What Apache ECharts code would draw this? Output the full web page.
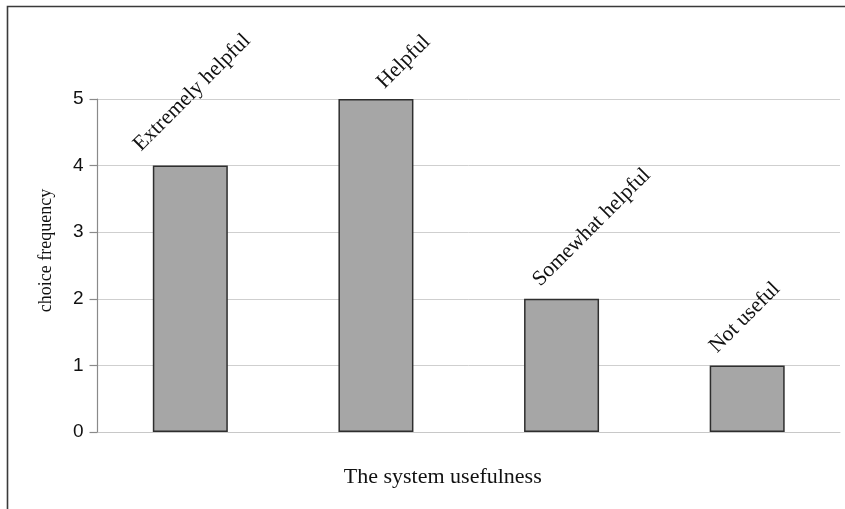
<!DOCTYPE html>
<html>
<head>
<meta charset="utf-8">
<script src="https://cdn.jsdelivr.net/npm/echarts@6/dist/echarts.min.js"></script>
<style>
  html, body { margin: 0; padding: 0; background: #fff; }
  #chart { width: 845px; height: 509px; }
</style>
</head>
<body>
<div id="chart"></div>
<script>
// Survey answers: how useful the system was, and how often each answer was chosen
const categories = ['Extremely helpful', 'Helpful', 'Somewhat helpful', 'Not useful'];
const frequencies = [4, 5, 2, 1];
const yTicks = [0, 1, 2, 3, 4, 5];

// Per-bar nudges for the slanted category captions (label-local coordinates)
const captionOffsets = [[-25.1, -39.3], [13, 4.5], [-6.8, -18.1], [-13.1, -24.4]];

const serif = '"Liberation Serif", "Times New Roman", serif';
const sans = '"Liberation Sans", Arial, sans-serif';

const chart = echarts.init(document.getElementById('chart'), null, { renderer: 'canvas' });

chart.setOption({
  animation: false,
  backgroundColor: '#ffffff',
  grid: { left: 97.5, right: 5, top: 99, bottom: 77, containLabel: false },
  xAxis: {
    type: 'category',
    data: categories,
    name: 'The system usefulness',
    nameLocation: 'middle',
    nameGap: 34,
    nameTextStyle: { fontFamily: serif, fontSize: 22, color: '#111', padding: [0, 52, 0, 0] },
    axisLine: { show: true, lineStyle: { color: '#c8c8c8', width: 1 } },
    axisTick: { show: false },
    axisLabel: { show: false },
    splitLine: { show: false }
  },
  yAxis: {
    type: 'value',
    min: yTicks[0],
    max: yTicks[yTicks.length - 1],
    interval: 1,
    name: 'choice frequency',
    nameLocation: 'middle',
    nameGap: 42,
    nameTextStyle: { fontFamily: serif, fontSize: 18, color: '#111', padding: [0, 0, 0, 30] },
    axisLine: { show: true, lineStyle: { color: '#8a8a8a', width: 1.2 } },
    axisTick: { show: true, inside: false, length: 8, lineStyle: { color: '#8a8a8a', width: 1.2 } },
    axisLabel: { fontFamily: sans, fontSize: 19, color: '#111', margin: 14 },
    splitLine: { show: true, lineStyle: { color: '#cfcfcf', width: 1 } }
  },
  series: [{
    type: 'bar',
    barWidth: 75,
    data: frequencies.map((v, i) => ({
      value: v,
      label: { offset: captionOffsets[i] }
    })),
    itemStyle: { color: '#a6a6a6', borderColor: '#2e2e2e', borderWidth: 1.5 },
    label: {
      show: true,
      position: 'top',
      distance: 0,
      rotate: 45,
      align: 'left',
      verticalAlign: 'bottom',
      fontFamily: serif,
      fontSize: 21.5,
      color: '#111',
      formatter: p => categories[p.dataIndex]
    }
  }],
  graphic: [{
    type: 'polyline',
    shape: { points: [[7.5, 509], [7.5, 6.5], [845, 6.5]] },
    style: { stroke: '#3a3a3a', lineWidth: 1.6, fill: null },
    silent: true
  }]
});
</script>
</body>
</html>
